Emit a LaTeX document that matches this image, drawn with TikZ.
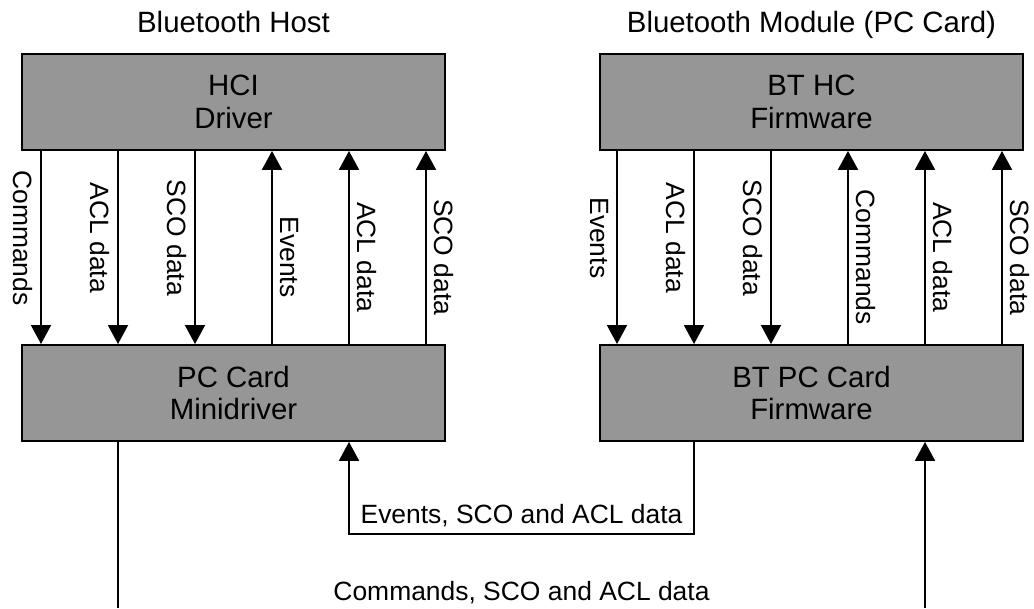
\documentclass[tikz,border=0pt]{standalone}
\usepackage{fontspec}
\setmainfont{Liberation Sans}
\usetikzlibrary{positioning,arrows.meta}
\definecolor{blockGray}{RGB}{150,150,150}

\begin{document}
\begin{tikzpicture}[
    every node/.append style={font=\fontsize{18.8}{24}\selectfont},
    bigtext/.style={font=\fontsize{20.9}{23.4}\selectfont},
    block/.style={rectangle, draw, line width=1.4pt, fill=blockGray, minimum width=10.575cm, minimum height=2.4cm, inner sep=0pt, align=center, bigtext},
    flow/.style={-{Triangle[width=0.5cm,length=0.47cm]}, line width=1pt},
    downlbl/.style={pos=0.45, rotate=-90, anchor=north, inner sep=0.2cm},
    uplbl/.style={pos=0.45, rotate=-90, anchor=south, inner sep=0.2cm}
]
    \useasboundingbox (0,0) rectangle (25.85,15.2);

    % Host and module blocks
    \node[block] (hci) at (5.8375,12.65) {HCI\\Driver};
    \node[block, below=4.825cm of hci] (mini) {PC Card\\Minidriver};
    \node[block, right=3.825cm of hci] (hcfw) {BT HC\\Firmware};
    \node[block, below=4.825cm of hcfw] (pcfw) {BT PC Card\\Firmware};

    \node[anchor=base, bigtext] (host) at ([yshift=0.525cm]hci.north) {Bluetooth Host};
    \node[anchor=base, bigtext] (module) at ([yshift=0.525cm]hcfw.north) {Bluetooth Module (PC Card)};

    % Host channels
    \foreach \x/\txt in {1.025/Commands, 2.95/ACL data, 4.875/SCO data}
        \draw[flow] (hci.south -| \x,0) -- node[downlbl] {\txt} (mini.north -| \x,0);
    \foreach \x/\txt in {6.8/Events, 8.725/ACL data, 10.65/SCO data}
        \draw[flow] (mini.north -| \x,0) -- node[uplbl] {\txt} (hci.south -| \x,0);

    % Module channels
    \foreach \x/\txt in {15.425/Events, 17.35/ACL data, 19.275/SCO data}
        \draw[flow] (hcfw.south -| \x,0) -- node[downlbl] {\txt} (pcfw.north -| \x,0);
    \foreach \x/\txt in {21.2/Commands, 23.125/ACL data, 25.05/SCO data}
        \draw[flow] (pcfw.north -| \x,0) -- node[uplbl] {\txt} (hcfw.south -| \x,0);

    % PC Card link
    \coordinate (evdrop) at (17.35,1.85);
    \coordinate (evcorner) at (8.725,1.85);
    \draw[flow] (pcfw.south -| evdrop) -- (evdrop) -- node[anchor=base, yshift=0.275cm] (evlbl) {Events, SCO and ACL data} (evcorner) -- (mini.south -| evcorner);

    \coordinate (hostout) at (2.95,0);
    \coordinate (modin) at (23.125,0);
    \draw[line width=1pt] (mini.south -| hostout) -- (hostout);
    \draw[flow] (modin) -- (pcfw.south -| modin);
    \node[anchor=base] (cmdlbl) at (13.0375,0.2) {Commands, SCO and ACL data};
\end{tikzpicture}
\end{document}
